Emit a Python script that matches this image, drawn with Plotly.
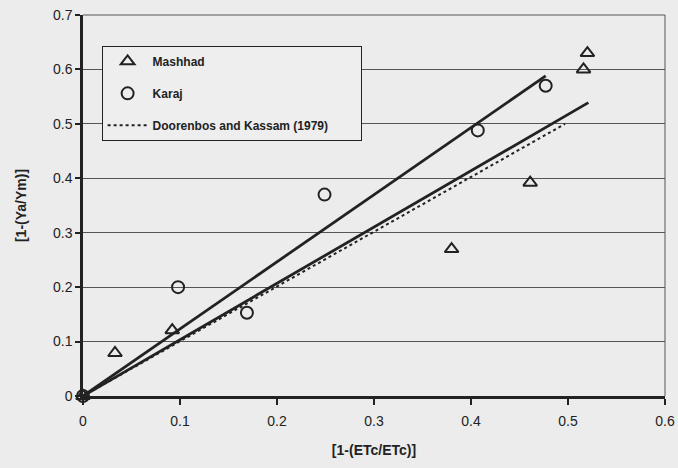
import plotly.graph_objects as go

# Data
mashhad_x = [0.0, 0.033, 0.092, 0.380, 0.461, 0.516, 0.520]
mashhad_y = [0.0, 0.079, 0.121, 0.270, 0.392, 0.600, 0.630]
karaj_x = [0.0, 0.098, 0.169, 0.249, 0.407, 0.477]
karaj_y = [0.0, 0.200, 0.153, 0.370, 0.488, 0.570]

# Fitted regression lines (through origin)
mashhad_fit_x = [0.0, 0.521]
mashhad_fit_y = [0.0, 0.539]
karaj_fit_x = [0.0, 0.477]
karaj_fit_y = [0.0, 0.588]
doorenbos_x = [0.0, 0.497]
doorenbos_y = [0.0, 0.500]

x_ticks = [0, 0.1, 0.2, 0.3, 0.4, 0.5, 0.6]
x_tick_labels = ["0", "0.1", "0.2", "0.3", "0.4", "0.5", "0.6"]
y_ticks = [0, 0.1, 0.2, 0.3, 0.4, 0.5, 0.6, 0.7]
y_tick_labels = ["0", "0.1", "0.2", "0.3", "0.4", "0.5", "0.6", "0.7"]

ink = "#222222"
bg = "#ececec"
pad = "\u00a0" * 8  # right padding inside the legend box

fig = go.Figure()

fig.add_trace(go.Scatter(x=mashhad_fit_x, y=mashhad_fit_y, mode="lines",
                         line=dict(color=ink, width=2.8), showlegend=False,
                         hoverinfo="skip"))
fig.add_trace(go.Scatter(x=karaj_fit_x, y=karaj_fit_y, mode="lines",
                         line=dict(color=ink, width=2.8), showlegend=False,
                         hoverinfo="skip"))
fig.add_trace(go.Scatter(x=mashhad_x, y=mashhad_y, mode="markers", name="Mashhad",
                         legendgroup="a",
                         marker=dict(symbol="triangle-up-open", size=12,
                                     color=ink, line=dict(width=2, color=ink)),
                         cliponaxis=False))
fig.add_trace(go.Scatter(x=karaj_x, y=karaj_y, mode="markers", name="Karaj",
                         legendgroup="b",
                         marker=dict(symbol="circle-open", size=12,
                                     color=ink, line=dict(width=2, color=ink)),
                         cliponaxis=False))
fig.add_trace(go.Scatter(x=doorenbos_x, y=doorenbos_y, mode="lines",
                         name="Doorenbos and Kassam (1979)" + pad, legendgroup="c",
                         line=dict(color=ink, width=2, dash="dot")))

fig.update_layout(
    width=678, height=468,
    margin=dict(l=83, r=13, t=15, b=72),
    paper_bgcolor=bg, plot_bgcolor=bg,
    font=dict(family="Liberation Sans, Arial, sans-serif", color=ink, size=14),
    legend=dict(x=0.032, y=0.919, xanchor="left", yanchor="top",
                bgcolor="#eeeeee", bordercolor=ink, borderwidth=1,
                font=dict(size=12, family="Liberation Sans, Arial, sans-serif",
                          weight="bold"),
                tracegroupgap=13, itemwidth=40),
    xaxis=dict(range=[0, 0.6], tickvals=x_ticks, ticktext=x_tick_labels,
               showgrid=False, zeroline=False, automargin=False,
               showline=True, linecolor=ink, linewidth=2.5,
               ticks="outside", ticklen=6, tickwidth=2, tickcolor=ink,
               ticklabelstandoff=4,
               title=dict(text="<b>[1-(ETc/ETc)]</b>", standoff=18,
                          font=dict(size=14))),
    yaxis=dict(range=[0, 0.7], tickvals=y_ticks, ticktext=y_tick_labels,
               showgrid=True, gridcolor="#555555", gridwidth=1, zeroline=False,
               automargin=False,
               showline=True, linecolor=ink, linewidth=2.5,
               ticks="outside", ticklen=5, tickwidth=2, tickcolor=ink,
               title=dict(text="<b>[1-(Ya/Ym)]</b>", standoff=24,
                          font=dict(size=14))),
    shapes=[
        dict(type="line", xref="paper", yref="paper", x0=1, x1=1, y0=0, y1=1,
             line=dict(color="#555555", width=1)),
        dict(type="line", xref="paper", yref="paper", x0=0, x1=1, y0=1, y1=1,
             line=dict(color="#555555", width=1)),
    ],
)

fig.write_html("out.html")
